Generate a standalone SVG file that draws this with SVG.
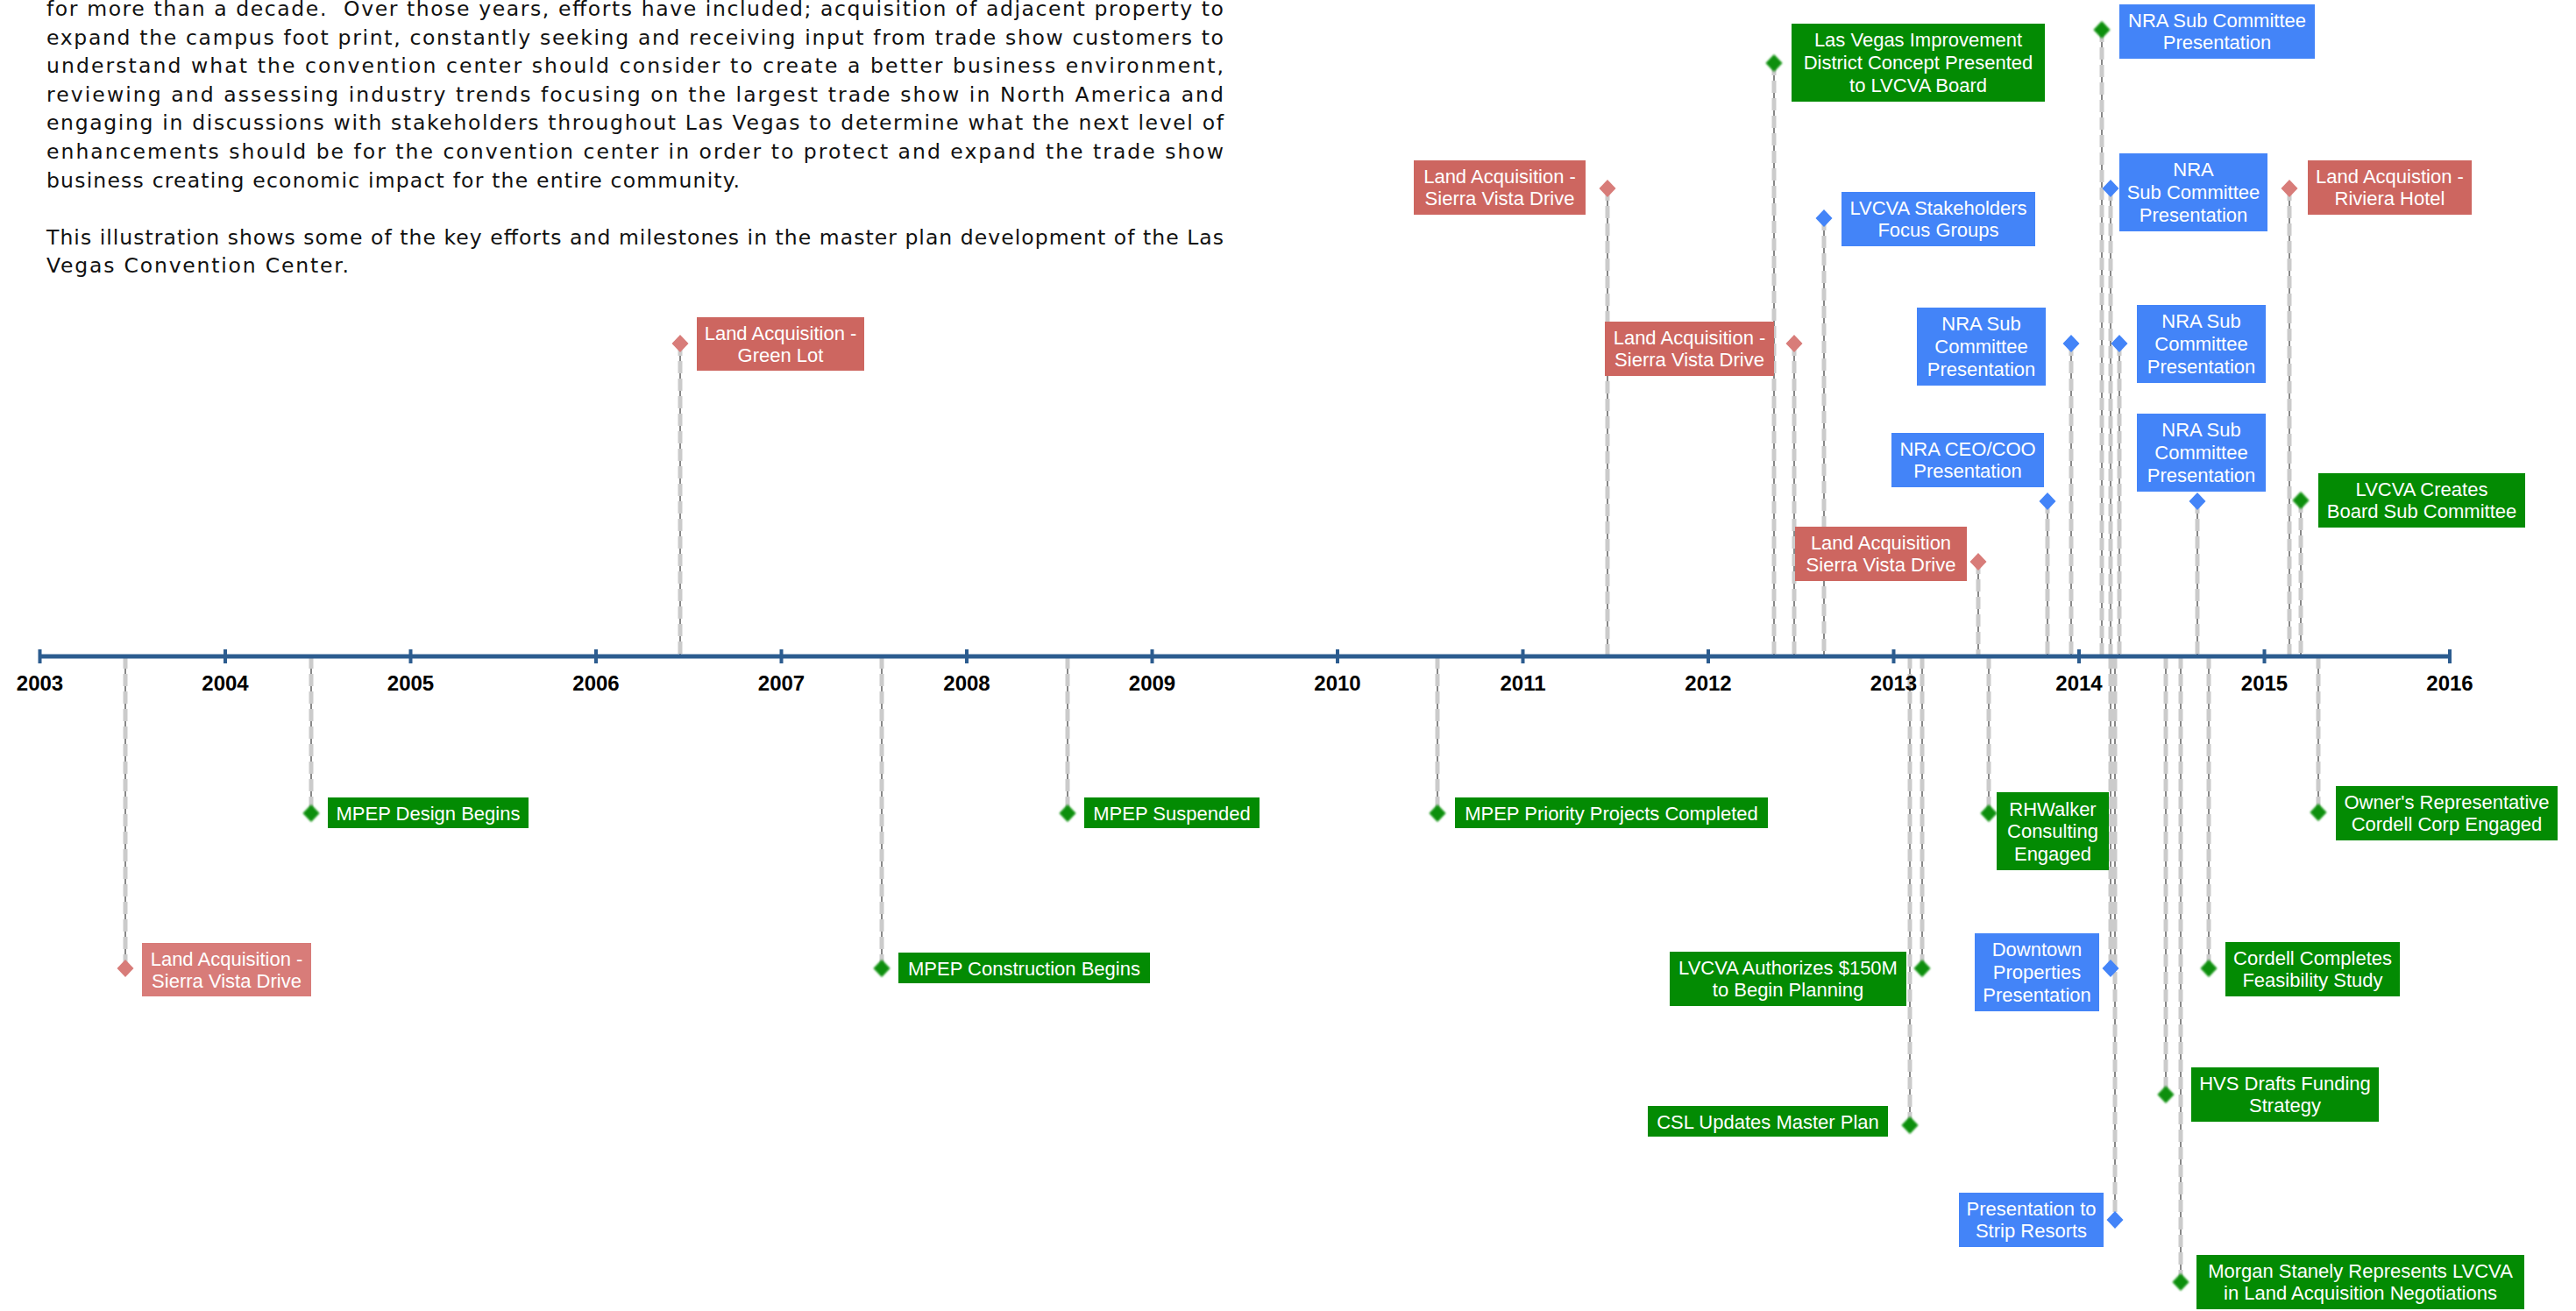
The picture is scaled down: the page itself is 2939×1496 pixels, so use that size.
<svg xmlns="http://www.w3.org/2000/svg" xmlns:xlink="http://www.w3.org/1999/xlink" width="2939" height="1496" viewBox="0 0 2939 1496">
<style>
.p{font-family:"DejaVu Sans","Liberation Sans",sans-serif;font-size:23.5px;fill:#111}
.yr{font-family:"Liberation Sans",Arial,sans-serif;font-size:24px;font-weight:bold;fill:#000;text-anchor:middle}
.t{font-family:"Liberation Sans",Arial,sans-serif;font-size:22px;fill:#fff;text-anchor:middle}
.rb{fill:#cd6660}.rl{fill:#d87c79}.gb{fill:#038b03}.bb{fill:#4384f8}
.rd{fill:#d87c79}.gd{fill:#078f07;filter:url(#soft)}.bd{fill:#4384f8}
.lk{stroke:#3a3a3a;stroke-width:1.2;fill:none}
.lg{stroke:#cbcbcb;stroke-width:5;stroke-dasharray:14 6;fill:none}
.ax{stroke:#2c5c8f;stroke-width:5}
.tk{stroke:#2c5c8f;stroke-width:4}
</style>
<defs>
<filter id="soft" x="-50%" y="-50%" width="200%" height="200%"><feGaussianBlur stdDeviation="0.9"/></filter>
<path id="dm" d="M0,-10 L9.5,0 L0,10 L-9.5,0 Z"/>
</defs>
<rect width="2939" height="1496" fill="#fff"/>

<g id="intro" class="p">
<text x="53" y="18" textLength="1343" lengthAdjust="spacing">for more than a decade.&#160; Over those years, efforts have included; acquisition of adjacent property to</text>
<text x="53" y="50.6" textLength="1343" lengthAdjust="spacing">expand the campus foot print, constantly seeking and receiving input from trade show customers to</text>
<text x="53" y="83.2" textLength="1343" lengthAdjust="spacing">understand what the convention center should consider to create a better business environment,</text>
<text x="53" y="115.8" textLength="1343" lengthAdjust="spacing">reviewing and assessing industry trends focusing on the largest trade show in North America and</text>
<text x="53" y="148.4" textLength="1343" lengthAdjust="spacing">engaging in discussions with stakeholders throughout Las Vegas to determine what the next level of</text>
<text x="53" y="181" textLength="1343" lengthAdjust="spacing">enhancements should be for the convention center in order to protect and expand the trade show</text>
<text x="53" y="213.6" textLength="791" lengthAdjust="spacing">business creating economic impact for the entire community.</text>
<text x="53" y="278.8" textLength="1343" lengthAdjust="spacing">This illustration shows some of the key efforts and milestones in the master plan development of the Las</text>
<text x="53" y="311.4" textLength="345" lengthAdjust="spacing">Vegas Convention Center.</text>
</g>

<g id="connectors">
<path class="lk" d="M776,392V749M1834,215V749M2024,72V749M2047,392V749M2081,249V749M2257,641V749M2336,572V749M2363,392V749M2398,34V749M2408,215V749M2418,392V749M2507,572V749M2612,215V749M2625,571V749M143,749V1105M355,749V928M1006,749V1105M1218,749V928M1640,749V928M2179,749V1284M2193,749V1105M2269,749V928M2645,749V927M2408,749V1105M2520,749V1105M2471,749V1249M2413,749V1392M2488,749V1463"/>
<path class="lg" d="M776,392V749M1834,215V749M2024,72V749M2047,392V749M2081,249V749M2257,641V749M2336,572V749M2363,392V749M2398,34V749M2408,215V749M2418,392V749M2507,572V749M2612,215V749M2625,571V749M143,749V1105M355,749V928M1006,749V1105M1218,749V928M1640,749V928M2179,749V1284M2193,749V1105M2269,749V928M2645,749V927M2408,749V1105M2520,749V1105M2471,749V1249M2413,749V1392M2488,749V1463"/>
</g>

<g id="axis">
<line class="ax" x1="45.5" y1="749" x2="2795" y2="749"/>
<path class="tk" d="M45.5,741V757M257,741V757M468.5,741V757M680,741V757M891.5,741V757M1103,741V757M1314.5,741V757M1526,741V757M1737.5,741V757M1949,741V757M2160.5,741V757M2372,741V757M2583.5,741V757M2795,741V757"/>
<text class="yr" x="45.5" y="788">2003</text>
<text class="yr" x="257" y="788">2004</text>
<text class="yr" x="468.5" y="788">2005</text>
<text class="yr" x="680" y="788">2006</text>
<text class="yr" x="891.5" y="788">2007</text>
<text class="yr" x="1103" y="788">2008</text>
<text class="yr" x="1314.5" y="788">2009</text>
<text class="yr" x="1526" y="788">2010</text>
<text class="yr" x="1737.5" y="788">2011</text>
<text class="yr" x="1949" y="788">2012</text>
<text class="yr" x="2160.5" y="788">2013</text>
<text class="yr" x="2372" y="788">2014</text>
<text class="yr" x="2583.5" y="788">2015</text>
<text class="yr" x="2795" y="788">2016</text>
</g>

<g id="a1"><rect class="rb" x="795" y="362" width="191" height="61"/><text class="t"><tspan x="890.5" y="387.5">Land Acquisition -</tspan><tspan x="890.5" y="413">Green Lot</tspan></text><use xlink:href="#dm" class="rd" x="776" y="392"/></g>
<g id="a2"><rect class="rb" x="1613" y="183" width="196" height="62"/><text class="t"><tspan x="1711" y="208.5">Land Acquisition -</tspan><tspan x="1711" y="234">Sierra Vista Drive</tspan></text><use xlink:href="#dm" class="rd" x="1834" y="215"/></g>
<g id="a3"><rect class="gb" x="2044" y="27" width="289" height="89"/><text class="t"><tspan x="2188.5" y="52.5">Las Vegas Improvement</tspan><tspan x="2188.5" y="78.5">District Concept Presented</tspan><tspan x="2188.5" y="104.5">to LVCVA Board</tspan></text><use xlink:href="#dm" class="gd" x="2024" y="72"/></g>
<g id="a4"><rect class="rb" x="1831" y="367" width="193" height="62"/><text class="t"><tspan x="1927.5" y="392.5">Land Acquisition -</tspan><tspan x="1927.5" y="418">Sierra Vista Drive</tspan></text><use xlink:href="#dm" class="rd" x="2047" y="392"/></g>
<g id="a5"><rect class="bb" x="2101" y="219" width="221" height="62"/><text class="t"><tspan x="2211.5" y="244.5">LVCVA Stakeholders</tspan><tspan x="2211.5" y="270">Focus Groups</tspan></text><use xlink:href="#dm" class="bd" x="2081" y="249"/></g>
<g id="a6"><rect class="rb" x="2048" y="601" width="196" height="62"/><text class="t"><tspan x="2146" y="626.5">Land Acquisition</tspan><tspan x="2146" y="652">Sierra Vista Drive</tspan></text><use xlink:href="#dm" class="rd" x="2257" y="641"/></g>
<g id="a7"><rect class="bb" x="2158" y="494" width="174" height="62"/><text class="t"><tspan x="2245" y="519.5">NRA CEO/COO</tspan><tspan x="2245" y="545">Presentation</tspan></text><use xlink:href="#dm" class="bd" x="2336" y="572"/></g>
<g id="a8"><rect class="bb" x="2187" y="351" width="147" height="89"/><text class="t"><tspan x="2260.5" y="376.5">NRA Sub</tspan><tspan x="2260.5" y="402.5">Committee</tspan><tspan x="2260.5" y="428.5">Presentation</tspan></text><use xlink:href="#dm" class="bd" x="2363" y="392"/></g>
<g id="a9"><rect class="bb" x="2418" y="5" width="223" height="62"/><text class="t"><tspan x="2529.5" y="30.5">NRA Sub Committee</tspan><tspan x="2529.5" y="56">Presentation</tspan></text><use xlink:href="#dm" class="gd" x="2398" y="34"/></g>
<g id="a10"><rect class="bb" x="2418" y="175" width="169" height="89"/><text class="t"><tspan x="2502.5" y="200.5">NRA</tspan><tspan x="2502.5" y="226.5">Sub Committee</tspan><tspan x="2502.5" y="252.5">Presentation</tspan></text><use xlink:href="#dm" class="bd" x="2408" y="215"/></g>
<g id="a11"><rect class="bb" x="2438" y="348" width="147" height="89"/><text class="t"><tspan x="2511.5" y="373.5">NRA Sub</tspan><tspan x="2511.5" y="399.5">Committee</tspan><tspan x="2511.5" y="425.5">Presentation</tspan></text><use xlink:href="#dm" class="bd" x="2418" y="392"/></g>
<g id="a12"><rect class="bb" x="2438" y="472" width="147" height="89"/><text class="t"><tspan x="2511.5" y="497.5">NRA Sub</tspan><tspan x="2511.5" y="523.5">Committee</tspan><tspan x="2511.5" y="549.5">Presentation</tspan></text><use xlink:href="#dm" class="bd" x="2507" y="572"/></g>
<g id="a13"><rect class="rb" x="2633" y="183" width="187" height="62"/><text class="t"><tspan x="2726.5" y="208.5">Land Acquistion -</tspan><tspan x="2726.5" y="234">Riviera Hotel</tspan></text><use xlink:href="#dm" class="rd" x="2612" y="215"/></g>
<g id="a14"><rect class="gb" x="2645" y="540" width="236" height="62"/><text class="t"><tspan x="2763" y="565.5">LVCVA Creates</tspan><tspan x="2763" y="591">Board Sub Committee</tspan></text><use xlink:href="#dm" class="gd" x="2625" y="571"/></g>

<g id="b1"><rect class="rl" x="162" y="1076" width="193" height="61"/><text class="t"><tspan x="258.5" y="1101.5">Land Acquisition -</tspan><tspan x="258.5" y="1127">Sierra Vista Drive</tspan></text><use xlink:href="#dm" class="rd" x="143" y="1105"/></g>
<g id="b2"><rect class="gb" x="374" y="910" width="229" height="35"/><text class="t" x="488.5" y="935.5">MPEP Design Begins</text><use xlink:href="#dm" class="gd" x="355" y="928"/></g>
<g id="b3"><rect class="gb" x="1025" y="1087" width="287" height="35"/><text class="t" x="1168.5" y="1112.5">MPEP Construction Begins</text><use xlink:href="#dm" class="gd" x="1006" y="1105"/></g>
<g id="b4"><rect class="gb" x="1237" y="910" width="200" height="35"/><text class="t" x="1337" y="935.5">MPEP Suspended</text><use xlink:href="#dm" class="gd" x="1218" y="928"/></g>
<g id="b5"><rect class="gb" x="1660" y="910" width="357" height="35"/><text class="t" x="1838.5" y="935.5">MPEP Priority Projects Completed</text><use xlink:href="#dm" class="gd" x="1640" y="928"/></g>
<g id="b6"><rect class="gb" x="1880" y="1262" width="274" height="35"/><text class="t" x="2017" y="1287.5">CSL Updates Master Plan</text><use xlink:href="#dm" class="gd" x="2179" y="1284"/></g>
<g id="b7"><rect class="gb" x="1905" y="1086" width="270" height="62"/><text class="t"><tspan x="2040" y="1111.5">LVCVA Authorizes $150M</tspan><tspan x="2040" y="1137">to Begin Planning</tspan></text><use xlink:href="#dm" class="gd" x="2193" y="1105"/></g>
<g id="b8"><rect class="gb" x="2278" y="904" width="128" height="89"/><text class="t"><tspan x="2342" y="930.5">RHWalker</tspan><tspan x="2342" y="956">Consulting</tspan><tspan x="2342" y="982">Engaged</tspan></text><use xlink:href="#dm" class="gd" x="2269" y="928"/></g>
<g id="b9"><rect class="gb" x="2665" y="897" width="253" height="62"/><text class="t"><tspan x="2791.5" y="922.5">Owner's Representative</tspan><tspan x="2791.5" y="948">Cordell Corp Engaged</tspan></text><use xlink:href="#dm" class="gd" x="2645" y="927"/></g>
<g id="b10"><rect class="bb" x="2253" y="1065" width="142" height="89"/><text class="t"><tspan x="2324" y="1090.5">Downtown</tspan><tspan x="2324" y="1116.5">Properties</tspan><tspan x="2324" y="1142.5">Presentation</tspan></text><use xlink:href="#dm" class="bd" x="2408" y="1105"/></g>
<g id="b11"><rect class="gb" x="2539" y="1075" width="199" height="62"/><text class="t"><tspan x="2638.5" y="1100.5">Cordell Completes</tspan><tspan x="2638.5" y="1126">Feasibility Study</tspan></text><use xlink:href="#dm" class="gd" x="2520" y="1105"/></g>
<g id="b12"><rect class="gb" x="2500" y="1218" width="214" height="62"/><text class="t"><tspan x="2607" y="1243.5">HVS Drafts Funding</tspan><tspan x="2607" y="1269">Strategy</tspan></text><use xlink:href="#dm" class="gd" x="2471" y="1249"/></g>
<g id="b13"><rect class="bb" x="2235" y="1361" width="165" height="62"/><text class="t"><tspan x="2317.5" y="1386.5">Presentation to</tspan><tspan x="2317.5" y="1412">Strip Resorts</tspan></text><use xlink:href="#dm" class="bd" x="2413" y="1392"/></g>
<g id="b14"><rect class="gb" x="2506" y="1432" width="374" height="62"/><text class="t"><tspan x="2693" y="1457.5">Morgan Stanely Represents LVCVA</tspan><tspan x="2693" y="1483">in Land Acquisition Negotiations</tspan></text><use xlink:href="#dm" class="gd" x="2488" y="1463"/></g>
</svg>
